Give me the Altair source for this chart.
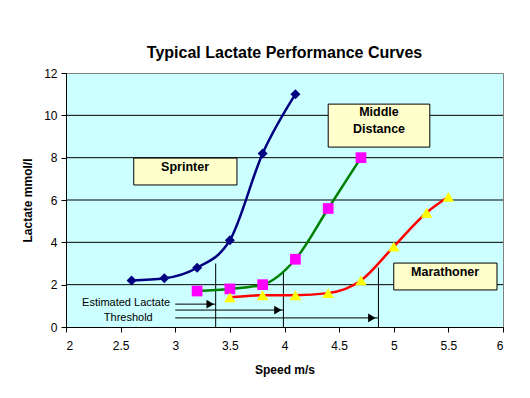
import altair as alt
import pandas as pd

# Series data
spr_x = [2.6, 2.9, 3.2, 3.5, 3.8, 4.1]
spr_y = [2.2, 2.3, 2.8, 4.1, 8.2, 11.0]
mid_x = [3.2, 3.5, 3.8, 4.1, 4.4, 4.7]
mid_y = [1.7, 1.8, 2.0, 3.2, 5.6, 8.0]
mar_x = [3.5, 3.8, 4.1, 4.4, 4.7, 5.0, 5.3, 5.5]
mar_y = [1.4, 1.5, 1.5, 1.6, 2.2, 3.8, 5.4, 6.15]

# Threshold markers
thr_x = [3.37, 3.99, 4.86]
thr_top = [3.0, 2.55, 2.8]
arrow_y = [1.08, 0.80, 0.43]
arrow_start = [3.0, 3.0, 3.0]
head_x = [3.32, 3.94, 4.80]

grid_y = [2, 4, 6, 8, 10]

# Label boxes
box_x1 = [2.62, 4.40, 5.00]
box_x2 = [3.565, 5.33, 5.945]
box_y1 = [6.71, 8.50, 1.75]
box_y2 = [7.98, 10.53, 3.02]
label_text = ["Sprinter", "Middle", "Distance", "Marathoner"]
label_x = [3.09, 4.865, 4.865, 5.47]
label_y = [7.55, 10.15, 9.35, 2.6]

FONT = "Liberation Sans"
xs = alt.Scale(domain=[2, 6], nice=False, zero=False)
ys = alt.Scale(domain=[0, 12], nice=False)

xax = alt.Axis(values=[2, 2.5, 3, 3.5, 4, 4.5, 5, 5.5, 6], format="~g", title="Speed m/s",
               grid=False, domainColor="black", tickColor="black", tickSize=5,
               labelFont=FONT, labelFontSize=12, labelColor="black", labelPadding=8,
               titleFont=FONT, titleFontSize=12, titleFontWeight="bold", titleColor="black",
               titlePadding=13)
yax = alt.Axis(values=[0, 2, 4, 6, 8, 10, 12], title="Lactate mmol/l",
               grid=False, domainColor="black", tickColor="black", tickSize=5,
               labelFont=FONT, labelFontSize=12, labelColor="black", labelPadding=4,
               titleFont=FONT, titleFontSize=12, titleFontWeight="bold", titleColor="black",
               titlePadding=9)

grid_df = pd.DataFrame({"y": grid_y})
grid = alt.Chart(grid_df).mark_rule(color="black", strokeWidth=1).encode(
    y=alt.Y("y:Q", scale=ys, axis=yax)
)

thr_df = pd.DataFrame({"x": thr_x, "y0": [0] * 3, "y1": thr_top})
vrules = alt.Chart(thr_df).mark_rule(color="black", strokeWidth=1).encode(
    x=alt.X("x:Q", scale=xs, axis=xax), y=alt.Y("y0:Q", scale=ys), y2="y1:Q"
)

arr_df = pd.DataFrame({"x0": arrow_start, "x1": thr_x, "y": arrow_y, "hx": head_x})
hrules = alt.Chart(arr_df).mark_rule(color="black", strokeWidth=1).encode(
    x=alt.X("x0:Q", scale=xs), x2="x1:Q", y=alt.Y("y:Q", scale=ys)
)
heads = alt.Chart(arr_df).mark_point(shape="triangle-right", filled=True, color="black",
                                      size=75, opacity=1).encode(
    x=alt.X("hx:Q", scale=xs), y=alt.Y("y:Q", scale=ys)
)

def series(xv, yv, line_color, marker_color, shape, size):
    df = pd.DataFrame({"x": xv, "y": yv})
    base = alt.Chart(df).encode(x=alt.X("x:Q", scale=xs), y=alt.Y("y:Q", scale=ys))
    ln = base.mark_line(color=line_color, strokeWidth=2.5, interpolate="monotone")
    pt = base.mark_point(shape=shape, filled=True, fill=marker_color, strokeWidth=0,
                         size=size, opacity=1)
    return ln + pt

s1 = series(spr_x, spr_y, "#000080", "#000080", "diamond", 100)
s2 = series(mid_x, mid_y, "#008000", "#FF00FF", "square", 115)
s3 = series(mar_x, mar_y, "#FF0000", "#FFFF00", "triangle-up", 130)

box_df = pd.DataFrame({"x1": box_x1, "x2": box_x2, "y1": box_y1, "y2": box_y2})
boxes = alt.Chart(box_df).mark_rect(fill="#FFFFCC", stroke="black", strokeWidth=1).encode(
    x=alt.X("x1:Q", scale=xs), x2="x2:Q", y=alt.Y("y1:Q", scale=ys), y2="y2:Q"
)
lab_df = pd.DataFrame({"x": label_x, "y": label_y, "t": label_text})
box_text = alt.Chart(lab_df).mark_text(font=FONT, fontSize=12.5, fontWeight="bold",
                                       color="black", baseline="middle").encode(
    x=alt.X("x:Q", scale=xs), y=alt.Y("y:Q", scale=ys), text="t"
)

note_df = pd.DataFrame({"x": [2.55, 2.57], "y": [1.13, 0.43],
                        "t": ["Estimated Lactate", "Threshold"]})
notes = alt.Chart(note_df).mark_text(font=FONT, fontSize=11, color="black",
                                     baseline="middle").encode(
    x=alt.X("x:Q", scale=xs), y=alt.Y("y:Q", scale=ys), text="t"
)

chart = alt.layer(grid, vrules, hrules, heads, s1, s2, s3, boxes, box_text, notes).properties(
    width=437, height=254,
    title=alt.TitleParams("Typical Lactate Performance Curves", font=FONT, fontSize=16,
                          fontWeight="bold", color="black", anchor="middle", offset=6),
    autosize=alt.AutoSizeParams(type="none"),
    padding={"left": 58, "top": 65, "right": 19, "bottom": 58},
    background="white",
).configure_view(fill="#CCFFFF", stroke="#808080", strokeWidth=1)

chart.save("out.html", embed_options={"renderer": "svg", "actions": False})
